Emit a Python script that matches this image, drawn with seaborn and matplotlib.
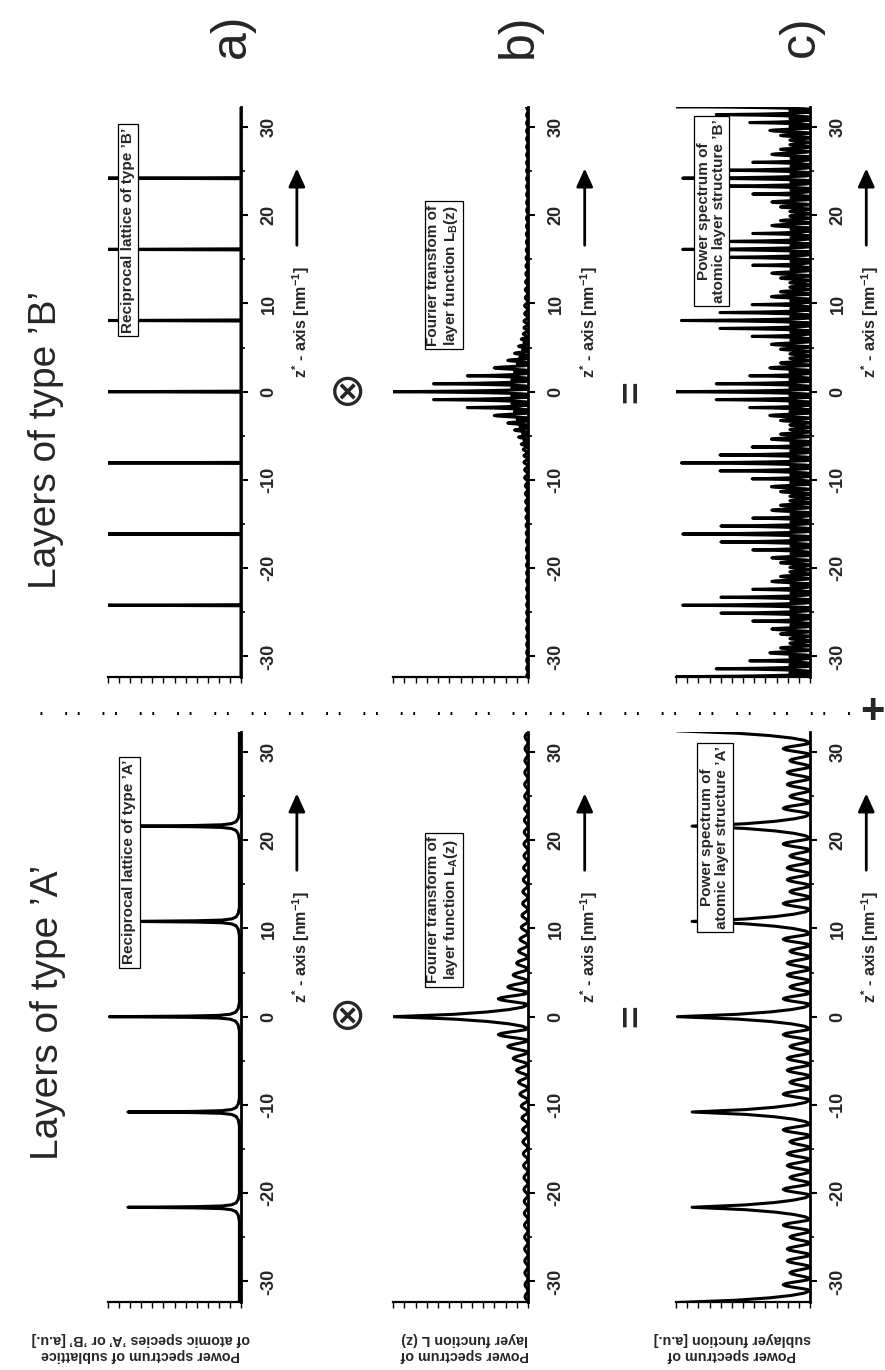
import numpy as np
import pandas as pd
import matplotlib
matplotlib.use("Agg")
import matplotlib.pyplot as plt
from matplotlib.patches import ArrowStyle
import seaborn as sns

# ---------------- values ----------------
Z_TICKS = [-30, -20, -10, 0, 10, 20, 30]
Z_TICK_LABELS = ["-30", "-20", "-10", "0", "10", "20", "30"]
Z_MINOR = [-25, -15, -5, 5, 15, 25]

# a) reciprocal lattices
latA_pos = [-21.6, -10.8, 0.0, 10.8, 21.6]
latA_height = [0.85, 0.85, 0.99, 0.85, 0.85]
latA_floor = 0.012
lor_dz = [-1.6, -0.9, -0.5, -0.28, -0.15, -0.07, 0.0, 0.07, 0.15, 0.28, 0.5, 0.9, 1.6]
lor_rel = [0.0, 0.01, 0.03, 0.07, 0.16, 0.4, 1.0, 0.4, 0.16, 0.07, 0.03, 0.01, 0.0]

latB_pos = [-24.2, -16.13, -8.07, 0.0, 8.07, 16.13, 24.2]
latB_height = [1.01, 1.01, 1.01, 1.01, 1.01, 1.01, 1.01]
delta_dz = [-0.06, 0.0, 0.06]
delta_rel = [0.0, 1.0, 0.0]

# b) Fourier transform of layer function (positive half, curve is symmetric)
bA_center_zero = 1.35
bA_center_h = 1.0
bA_zeros = [1.35, 2.7, 4.05, 5.4, 6.75, 8.1, 9.45, 10.8, 12.15, 13.5, 14.85, 16.2,
            17.55, 18.9, 20.25, 21.6, 22.95, 24.3, 25.65, 27.0, 28.35, 29.7, 31.05, 32.4]
bA_heights = [0.22, 0.15, 0.11, 0.085, 0.07, 0.06, 0.05, 0.045, 0.04, 0.038, 0.035, 0.033,
              0.03, 0.03, 0.028, 0.027, 0.026, 0.025, 0.025, 0.024, 0.023, 0.022, 0.022]

bB_center_zero = 0.3
bB_center_h = 1.0
bB_zeros = [0.3, 0.6, 1.2, 1.5, 2.1, 2.4, 3.0, 3.3, 3.8, 4.1, 4.6, 4.9, 5.4, 5.7, 6.2,
            6.9, 7.6, 8.4, 9.3, 10.2, 11.1, 12.0, 12.9, 13.8, 14.7, 15.6, 16.5, 17.4,
            18.3, 19.2, 20.1, 21.0, 21.9, 22.8, 23.7, 24.6, 25.5, 26.4, 27.3, 28.2,
            29.1, 30.0, 30.9, 31.8, 32.7]
bB_heights = [0.12, 0.7, 0.12, 0.45, 0.1, 0.25, 0.08, 0.15, 0.06, 0.1, 0.04, 0.07,
              0.03, 0.05, 0.035, 0.03, 0.03, 0.025, 0.025, 0.02, 0.02, 0.018, 0.016,
              0.015, 0.014, 0.013, 0.012, 0.012, 0.011, 0.011, 0.01, 0.01, 0.01, 0.01,
              0.01, 0.01, 0.01, 0.01, 0.01, 0.01, 0.01, 0.01, 0.01, 0.01]

# c) power spectra (positive half, symmetric)
cA_center_h = 0.99
cA_zeros = [1.35, 2.7, 4.05, 5.4, 6.75, 8.1, 9.45, 12.15, 13.5, 14.85, 16.2, 17.55,
            18.9, 20.25, 22.95, 24.3, 25.65, 27.0, 28.35, 29.7, 31.05, 33.75]
cA_heights = [0.2, 0.15, 0.17, 0.17, 0.15, 0.2, 0.88, 0.2, 0.15, 0.17, 0.17, 0.15,
              0.2, 0.88, 0.2, 0.15, 0.17, 0.17, 0.15, 0.2, 1.0]

cB_lattice = [-32.3, -24.2, -16.13, -8.07, 0.0, 8.07, 16.13, 24.2, 32.3]
cB_amp = [1.0, 0.95, 0.95, 0.96, 1.0, 0.96, 0.95, 0.95, 1.0]
cB_cluster_zeros = [-3.0, -2.4, -2.1, -1.5, -1.2, -0.6, -0.3, 0.3, 0.6, 1.2, 1.5,
                    2.1, 2.4, 3.0]
cB_cluster_h = [0.3, 0.15, 0.45, 0.15, 0.7, 0.15, 1.0, 0.15, 0.7, 0.15, 0.45, 0.15, 0.3]
cB_between_h = [0.22, 0.15, 0.15, 0.22]

# hump shapes (relative position, relative height)
fringe_f = [0.0, 0.1, 0.2, 0.3, 0.4, 0.5, 0.6, 0.7, 0.8, 0.9, 1.0]
fringe_v = [0.0, 0.1, 0.35, 0.65, 0.9, 1.0, 0.9, 0.65, 0.35, 0.1, 0.0]
peak_v = [0.0, 0.04, 0.14, 0.3, 0.55, 1.0, 0.55, 0.3, 0.14, 0.04, 0.0]

Z_LIM = 32.3


# ---------------- curve assembly ----------------
def humps(zeros, heights, amp=1.0):
    zs, ps = [], []
    for a, b, h in zip(zeros[:-1], zeros[1:], heights):
        shape = peak_v if h >= 0.4 else fringe_v
        for f, v in zip(fringe_f, shape):
            zs.append(a + (b - a) * f)
            ps.append(amp * h * v)
    return zs, ps


def mirrored(center_zero, center_h, zeros, heights):
    full_z = [-z for z in reversed(zeros)] + list(zeros)
    full_h = list(reversed(heights)) + [center_h] + list(heights)
    return full_z, full_h


def peaks(pos, heights, dz, rel, floor):
    zs, ps = [-Z_LIM - 1], [floor]
    for p, h in zip(pos, heights):
        for d, r in zip(dz, rel):
            zs.append(p + d)
            ps.append(floor + (h - floor) * r)
    zs.append(Z_LIM + 1)
    ps.append(floor)
    return zs, ps


curves = {}
curves[("a", "A")] = peaks(latA_pos, latA_height, lor_dz, lor_rel, latA_floor)
curves[("a", "B")] = peaks(latB_pos, latB_height, delta_dz, delta_rel, 0.0)
curves[("b", "A")] = humps(*mirrored(bA_center_zero, bA_center_h, bA_zeros, bA_heights))
curves[("b", "B")] = humps(*mirrored(bB_center_zero, bB_center_h, bB_zeros, bB_heights))
curves[("c", "A")] = humps(*mirrored(1.35, cA_center_h, cA_zeros, cA_heights))

zc, pc = [], []
for i, (L, amp) in enumerate(zip(cB_lattice, cB_amp)):
    z_, p_ = humps([L + d for d in cB_cluster_zeros], cB_cluster_h, amp)
    zc += z_
    pc += p_
    if i < len(cB_lattice) - 1:
        a = L + cB_cluster_zeros[-1]
        b = cB_lattice[i + 1] + cB_cluster_zeros[0]
        n = len(cB_between_h)
        edges = [a + (b - a) * k / n for k in range(n + 1)]
        z_, p_ = humps(edges, cB_between_h)
        zc += z_
        pc += p_
curves[("c", "B")] = (zc, pc)

# ---------------- figure ----------------
sns.set_theme(style="white")
plt.rcParams['font.family'] = ['Liberation Sans', 'DejaVu Sans']
plt.rcParams['mathtext.fontset'] = 'custom'
plt.rcParams['mathtext.rm'] = 'Liberation Sans'
plt.rcParams['mathtext.bf'] = 'Liberation Sans:bold'
plt.rcParams['mathtext.it'] = 'Liberation Sans:italic'
plt.rcParams['mathtext.default'] = 'bf'

W, H = 885, 1370
fig = plt.figure(figsize=(W / 100, H / 100), dpi=100)

col_px = {"a": (108, 241), "b": (393, 528), "c": (676, 810)}
grp_px = {"B": (106.7, 676.7), "A": (731.7, 1301.7)}

box_text = {
    ("a", "A"): "Reciprocal lattice of type \u2019A\u2019",
    ("a", "B"): "Reciprocal lattice of type \u2019B\u2019",
    ("b", "A"): "Fourier transform of\nlayer function L$_{\\mathbf{A}}$(z)",
    ("b", "B"): "Fourier transfom of\nlayer function L$_{\\mathbf{B}}$(z)",
    ("c", "A"): "Power spectrum of\natomic layer structure \u2019A\u2019",
    ("c", "B"): "Power spectrum of\natomic layer structure \u2019B\u2019",
}
box_pos = {  # (axes fraction x, z centre)
    ("a", "A"): (0.16, 17.5), ("a", "B"): (0.15, 18.3),
    ("b", "A"): (0.37, 12.1), ("b", "B"): (0.37, 13.2),
    ("c", "A"): (0.29, 20.3), ("c", "B"): (0.265, 20.5),
}

for col in "abc":
    for grp in "AB":
        x0, x1 = col_px[col]
        y0, y1 = grp_px[grp]
        ax = fig.add_axes([x0 / W, 1 - y1 / H, (x1 - x0) / W, (y1 - y0) / H])
        z, p = curves[(col, grp)]
        df = pd.DataFrame({"z": z, "power": p})
        sns.lineplot(data=df, x="power", y="z", orient="y", sort=False, estimator=None,
                     color="black", lw=2.2, ax=ax, zorder=2)
        ax.set_ylim(-Z_LIM, Z_LIM)
        ax.set_xlim(1.0, 0.0)
        ax.set_xlabel("")
        ax.set_ylabel("")
        for s in ("left", "top"):
            ax.spines[s].set_visible(False)
        ax.spines["right"].set_linewidth(2.0)
        ax.spines["bottom"].set_linewidth(1.6)
        for s in ("right", "bottom"):
            ax.spines[s].set_color("black")
        ax.yaxis.tick_right()
        ax.set_yticks(Z_TICKS)
        ax.set_yticklabels(Z_TICK_LABELS, rotation=90, va="center",
                           fontsize=13, fontweight="bold")
        ax.set_yticks(Z_MINOR, minor=True)
        ax.tick_params(axis="y", which="major", direction="out", length=5, width=1.5,
                       pad=9, color="black", right=True, left=False)
        ax.tick_params(axis="y", which="minor", direction="out", length=3, width=1.2,
                       color="black", right=True, left=False)
        ax.set_xticks(np.linspace(0, 1, 13))
        ax.set_xticklabels([])
        ax.tick_params(axis="x", which="major", direction="out", length=4, width=1.0,
                       color="black", bottom=True)
        ax.patch.set_alpha(0)
        bx, bz = box_pos[(col, grp)]
        ax.text(bx, bz, box_text[(col, grp)], transform=ax.get_yaxis_transform(),
                rotation=90, ha="center", va="center", fontsize=11, fontweight="bold",
                linespacing=1.1, zorder=5,
                bbox=dict(boxstyle="square,pad=0.22", fc="white", ec="black", lw=0.9))
        trans = ax.get_yaxis_transform()
        ax.annotate("", xy=(1.42, 25.3), xytext=(1.42, 16.6), xycoords=trans,
                    textcoords=trans, annotation_clip=False,
                    arrowprops=dict(arrowstyle=ArrowStyle("-|>", head_length=0.55,
                                                          head_width=0.25),
                                    mutation_scale=20, lw=2.0, color="black",
                                    shrinkA=0, shrinkB=0))
        ax.text(1.45, 7.9, "$\\mathbf{z^{*}}$ - axis [nm$^{\\mathbf{-1}}$]",
                transform=trans, rotation=90, ha="center", va="center",
                fontsize=11.5, fontweight="bold", clip_on=False)

# overlay for page annotations (pixel coordinates)
ov = fig.add_axes([0, 0, 1, 1])
ov.set_xlim(0, W)
ov.set_ylim(H, 0)
ov.axis("off")
ov.patch.set_alpha(0)

ov.text(46, 440, "Layers of type \u2019B\u2019", rotation=90, ha="center", va="center",
        fontsize=28)
ov.text(48, 1012, "Layers of type \u2019A\u2019", rotation=90, ha="center", va="center",
        fontsize=28)
for lab, x in zip(["a)", "b)", "c)"], [232, 519, 801]):
    ov.text(x, 36, lab, rotation=90, ha="center", va="center", fontsize=36)
for yc in (392, 1016):
    ov.text(348, yc, "\u2297", ha="center", va="center", fontsize=32,
            family=["DejaVu Sans"])
    ov.text(633, yc, "=", rotation=90, ha="center", va="center", fontsize=28,
            fontweight="bold")
ov.plot([40, 858], [712.7, 712.7], color="black", lw=2.2,
        linestyle=(0, (0.6, 7.5, 0.6, 3.5)))
ov.text(872, 712, "+", ha="center", va="center", fontsize=30, fontweight="bold")

ylab = [
    (141, "Power spectrum of sublattice\nof atomic species \u2019A\u2019 or \u2019B\u2019 [a.u.]"),
    (465, "Power spectrum of\nlayer function L (z)"),
    (732, "Power spectrum of\nsublayer function [a.u.]"),
]
for x, t in ylab:
    ov.text(x, 1347, t, rotation=180, ha="center", va="center", fontsize=10.3,
            fontweight="bold", linespacing=1.25)

fig.savefig("out.png", dpi=100)
